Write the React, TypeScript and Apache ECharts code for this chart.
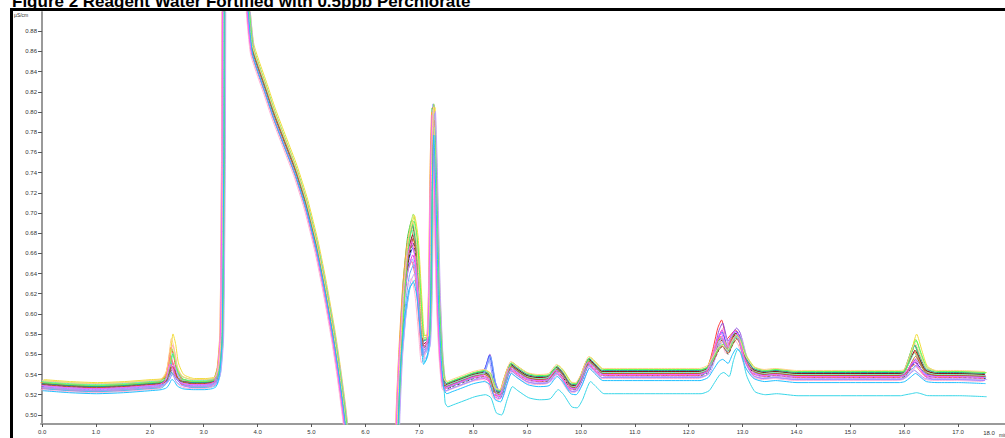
import React, { useEffect, useRef } from "react";
import * as echarts from "echarts";

const TITLE = "Figure 2 Reagent Water Fortified with 0.5ppb Perchlorate";
const Y_UNIT = "µS/cm";
const X_UNIT = "min";
const X_END_LABEL = "18.0";

const xTicks = [0, 1, 2, 3, 4, 5, 6, 7, 8, 9, 10, 11, 12, 13, 14, 15, 16, 17];
const yTicks = [0.5, 0.52, 0.54, 0.56, 0.58, 0.6, 0.62, 0.64, 0.66, 0.68, 0.7, 0.72, 0.74, 0.76, 0.78, 0.8, 0.82, 0.84, 0.86, 0.88];

// typical trace (time in min, conductivity in µS/cm)
const baseTrace: [number, number][] = [
  [0.0, 0.53], [0.5, 0.528], [1.0, 0.527], [1.5, 0.528], [2.0, 0.53], [2.2, 0.531], [2.3, 0.531],
  [2.35, 0.531], [2.4, 0.531], [2.45, 0.531], [2.5, 0.531], [2.6, 0.531], [2.8, 0.531], [3.0, 0.531],
  [3.15, 0.532], [3.22, 0.534], [3.28, 0.545], [3.33, 0.58], [3.36, 0.75], [3.38, 1.0], [3.5, 1.3],
  [3.75, 1.1], [3.8, 0.92], [3.85, 0.885], [3.9, 0.862], [4.0, 0.845], [4.15, 0.822], [4.3, 0.798],
  [4.5, 0.77], [4.7, 0.742], [4.9, 0.708], [5.1, 0.665], [5.25, 0.625], [5.4, 0.58], [5.5, 0.545],
  [5.6, 0.505], [5.7, 0.46], [5.9, 0.4], [6.3, 0.38], [6.55, 0.4], [6.6, 0.5], [6.65, 0.56],
  [6.72, 0.62], [6.8, 0.66], [6.88, 0.675], [6.95, 0.655], [7.02, 0.6], [7.07, 0.568], [7.12, 0.57],
  [7.17, 0.574], [7.2, 0.62], [7.23, 0.74], [7.26, 0.795], [7.3, 0.73], [7.35, 0.62], [7.4, 0.56],
  [7.45, 0.532], [7.5, 0.528], [7.6, 0.53], [7.8, 0.534], [8.0, 0.538], [8.2, 0.54], [8.3, 0.537],
  [8.4, 0.522], [8.5, 0.52], [8.6, 0.535], [8.7, 0.548], [8.8, 0.544], [9.0, 0.537], [9.2, 0.535],
  [9.4, 0.536], [9.55, 0.545], [9.65, 0.54], [9.8, 0.528], [9.9, 0.527], [10.0, 0.535], [10.15, 0.553],
  [10.25, 0.548], [10.4, 0.541], [10.8, 0.541], [11.5, 0.541], [12.0, 0.541], [12.2, 0.541],
  [12.35, 0.544], [12.45, 0.552], [12.55, 0.56], [12.62, 0.562], [12.72, 0.558], [12.8, 0.566],
  [12.88, 0.572], [12.95, 0.568], [13.05, 0.553], [13.2, 0.543], [13.4, 0.54], [13.6, 0.541],
  [14.0, 0.539], [15.0, 0.539], [15.9, 0.539], [16.0, 0.54], [16.1, 0.544], [16.2, 0.548],
  [16.3, 0.544], [16.4, 0.54], [16.6, 0.539], [17.0, 0.539], [17.5, 0.538],
];

// peak contributions that differ between injections (time, height above typical trace)
const peak24: [number, number][] = [[2.3, 0.006], [2.35, 0.018], [2.4, 0.034], [2.45, 0.026], [2.5, 0.012], [2.6, 0.003]];
const peak69: [number, number][] = [[6.72, 0.012], [6.8, 0.02], [6.88, 0.025], [6.95, 0.022], [7.02, 0.012], [7.07, 0.008], [7.12, 0.006]];
const peak73: [number, number][] = [[7.23, 0.012], [7.26, 0.015], [7.3, 0.012], [7.35, 0.006]];
const peak83: [number, number][] = [[8.2, 0.004], [8.3, 0.022], [8.4, 0.01]];
const peak126: [number, number][] = [[12.45, 0.006], [12.55, 0.016], [12.62, 0.02], [12.72, 0.01], [12.8, 0.004]];
const peak129: [number, number][] = [[12.8, 0.006], [12.88, 0.01], [12.95, 0.009], [13.05, 0.004]];
const peak162: [number, number][] = [[16.1, 0.01], [16.2, 0.02], [16.3, 0.011], [16.4, 0.003]];

// per-injection values
const traceColors = [
  "#ff3b3b", "#ff8fc8", "#e83ce8", "#8f4fe0", "#3c5cff", "#39d6e8", "#3cc43c", "#a6e85c",
  "#f2dc3a", "#ffa63c", "#8a0f1e", "#1a1a1a", "#ff6a8a", "#6aa8ff", "#7cf0c0", "#c3a2ff",
  "#ffb4d6", "#1fa0a0", "#c0602a", "#9c9cff", "#5cff5c", "#ff5cff", "#ffd28a", "#20c0ff",
];
const dashedTrace = [false, false, false, false, false, false, false, false, false, false, false, true,
  false, false, false, false, false, false, false, false, false, false, false, false];
const offsetEarly = [0.002, 0.001, -0.004, 0.0, -0.002, -0.004, 0.003, 0.004, 0.005, 0.002, 0.001, 0.0,
  -0.003, -0.001, 0.003, -0.002, -0.005, 0.001, 0.0, -0.003, 0.002, -0.001, 0.004, -0.006];
const offsetLate = [0.002, 0.0, -0.004, 0.001, 0.0, -0.02, 0.002, 0.003, 0.004, 0.001, 0.002, -0.002,
  -0.002, -0.001, 0.001, -0.003, -0.005, 0.003, 0.0, -0.004, 0.004, -0.001, 0.005, -0.007];
const timeShift = [-0.01, 0.02, 0.0, 0.01, 0.0, 0.03, -0.02, 0.01, 0.03, -0.03, 0.0, 0.01,
  -0.02, 0.02, -0.01, 0.04, -0.03, 0.0, 0.01, -0.01, 0.02, -0.02, 0.0, 0.01];
const amp24 = [1.0, 1.1, 0.8, 0.6, 0.5, 1.0, 0.4, 0.9, 1.3, 0.7, 0.5, 0.4, 0.9, 0.3, 0.2, 0.6, 0.7, 0.3, 0.5, 0.4, 0.8, 0.6, 1.2, 0.3];
const amp69 = [0.4, 0.2, -0.5, 0.0, -0.3, -1.5, 0.6, 0.8, 0.7, 0.3, 0.1, -0.2, -0.8, -1.0, 0.2, -1.3, -1.4, 0.5, 0.0, -0.7, 0.6, -0.1, 0.5, -1.5];
const amp73 = [0.5, 0.0, -0.3, 0.8, 1.0, -1.0, 0.4, 0.6, 0.3, 0.2, 0.0, 0.1, -0.5, 0.3, -0.6, 0.5, -1.2, 0.0, -0.2, 0.7, -0.8, 0.2, 0.4, -0.8];
const amp83 = [0, 0, 0, 1, 1, 0, 0, 0, 0, 0, 0, 0, 0, 1, 0, 0, 0, 0, 0, 1, 0, 0, 0, 0];
const amp126 = [1.5, 1.2, 1.3, 1.4, 1.0, 0.0, 0.6, 0.5, 0.4, 0.7, 0.5, 0.4, 0.9, 0.6, 0.3, 1.1, 0.8, 0.2, 0.3, 0.9, 0.2, 1.0, 0.1, 0.0];
const amp129 = [1.0, 0.8, 1.3, 1.3, 1.1, 1.3, 0.7, 0.4, 0.3, 0.6, 0.7, 0.6, 0.8, 0.9, 0.5, 1.2, 0.7, 0.4, 0.3, 1.0, 0.2, 1.2, 0.2, 0.1];
const amp162 = [0.6, 0.4, 0.5, 0.3, 0.2, -0.3, 1.0, 1.2, 1.4, 0.8, 0.7, 0.3, 0.2, 0.1, 0.6, 0.2, 0.1, 0.9, 0.5, 0.0, 1.1, 0.3, 0.9, 0.0];

function deltaAt(peak: [number, number][], t: number): number {
  for (const [pt, dv] of peak) if (pt === t) return dv;
  return 0;
}

export default function App() {
  const ref = useRef<HTMLDivElement>(null);
  useEffect(() => {
    if (!ref.current) return;
    const chart = echarts.init(ref.current, null, { renderer: "svg" });
    const series = traceColors.map((color, k) => {
      const data = baseTrace.map(([t, y]) => {
        const off = t < 7.45 ? offsetEarly[k] : offsetLate[k];
        const v =
          y + off +
          amp24[k] * deltaAt(peak24, t) +
          amp69[k] * deltaAt(peak69, t) +
          amp73[k] * deltaAt(peak73, t) +
          amp83[k] * deltaAt(peak83, t) +
          amp126[k] * deltaAt(peak126, t) +
          amp129[k] * deltaAt(peak129, t) +
          amp162[k] * deltaAt(peak162, t);
        return [t + timeShift[k], v];
      });
      return {
        type: "line",
        data,
        showSymbol: false,
        symbol: "none",
        silent: true,
        clip: true,
        smooth: 0.2,
        lineStyle: { width: 1, color, type: dashedTrace[k] ? [3, 2] : "solid" },
        itemStyle: { color },
      };
    });
    chart.setOption({
      animation: false,
      backgroundColor: "#ffffff",
      grid: { left: 41, right: 0, top: 12, bottom: 14, containLabel: false },
      xAxis: {
        type: "value",
        min: -0.02,
        max: 17.87,
        axisLine: { show: true, lineStyle: { color: "#9a9a9a", width: 2 } },
        axisTick: { show: true, customValues: xTicks, length: 3, lineStyle: { color: "#555" } },
        axisLabel: {
          customValues: xTicks,
          formatter: (v: number) => v.toFixed(1),
          fontSize: 6,
          fontFamily: "Liberation Sans",
          color: "#333",
          margin: 5,
        },
        splitLine: { show: false },
      },
      yAxis: {
        type: "value",
        min: 0.491,
        max: 0.899,
        axisLine: { show: true, lineStyle: { color: "#9a9a9a", width: 2 } },
        axisTick: { show: true, customValues: yTicks, length: 4, lineStyle: { color: "#555" } },
        axisLabel: {
          customValues: yTicks,
          formatter: (v: number) => v.toFixed(2),
          fontSize: 6,
          fontFamily: "Liberation Sans",
          color: "#333",
          margin: 4,
        },
        splitLine: { show: false },
      },
      graphic: [
        { type: "rect", shape: { x: 10, y: 8, width: 995, height: 3 }, style: { fill: "#000" }, silent: true },
        { type: "rect", shape: { x: 10, y: 8, width: 3, height: 430 }, style: { fill: "#000" }, silent: true },
        {
          type: "text", x: 12, y: 1, silent: true,
          style: { text: TITLE, font: 'bold 17px "Liberation Sans", Arial, sans-serif', fill: "#000", verticalAlign: "middle", align: "left" },
        },
        {
          type: "text", x: 14, y: 15, silent: true,
          style: { text: Y_UNIT, font: '5px "Liberation Sans", sans-serif', fill: "#333", verticalAlign: "middle", align: "left" },
        },
        {
          type: "text", x: 989, y: 433, silent: true,
          style: { text: X_END_LABEL, font: '6px "Liberation Sans", sans-serif', fill: "#333", verticalAlign: "middle", align: "center" },
        },
        {
          type: "text", x: 999, y: 435, silent: true,
          style: { text: X_UNIT, font: '5px "Liberation Sans", sans-serif', fill: "#333", verticalAlign: "middle", align: "left" },
        },
      ],
      series,
    });
    return () => chart.dispose();
  }, []);
  return <div ref={ref} style={{ position: "fixed", left: 0, top: 0, width: 1005, height: 438 }} />;
}
